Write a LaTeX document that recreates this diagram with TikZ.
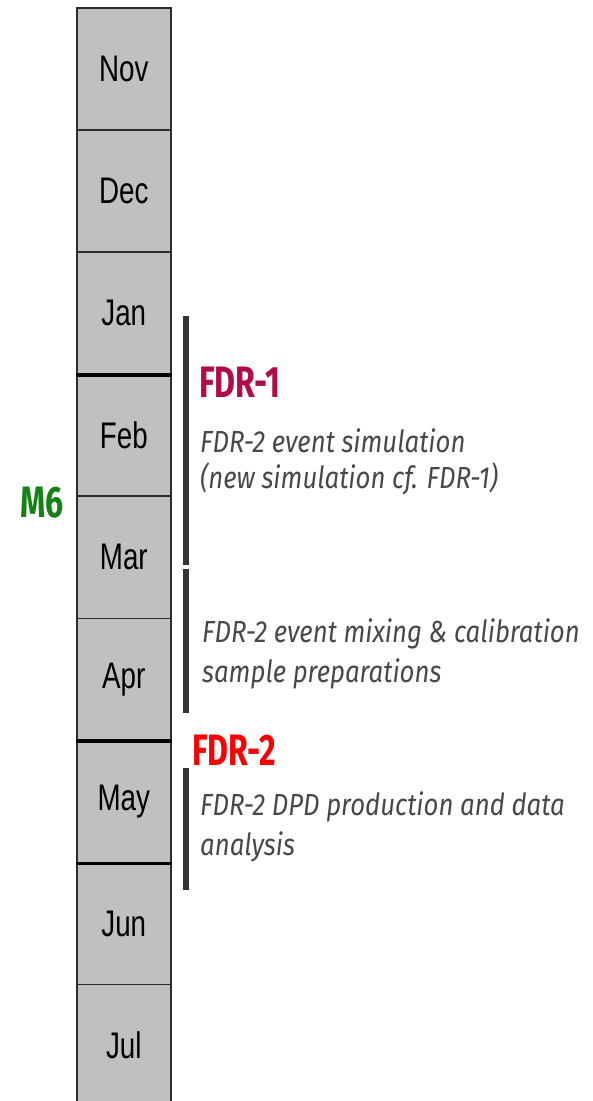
\documentclass[tikz,border=0pt]{standalone}
\usepackage{fontspec}
\newfontfamily\monthfont[FakeStretch=0.75]{Liberation Sans}
\newfontfamily\headfont[FakeStretch=0.73]{Fira Sans}
\newfontfamily\notefont[FakeStretch=0.845]{Fira Sans}
\definecolor{cellfill}{RGB}{192,192,192}
\definecolor{cellline}{RGB}{45,45,45}
\definecolor{barcol}{RGB}{51,51,51}
\definecolor{fdrone}{RGB}{176,12,72}
\definecolor{fdrtwo}{RGB}{250,0,0}
\definecolor{msix}{RGB}{20,130,20}
\definecolor{notecol}{RGB}{72,72,72}
\begin{document}
\begin{tikzpicture}[x=1pt,y=-1pt,
  cell/.style={draw=cellline, line width=1.6pt, fill=cellfill,
    minimum width=94pt, minimum height=122.1pt, inner sep=0pt,
    anchor=north west, text=black,
    font=\monthfont\fontsize{37}{40}\selectfont},
  sepline/.style={draw=black, line width=3.5pt},
  phasebar/.style={fill=barcol},
  head/.style={anchor=base west, inner sep=0pt,
    font=\headfont\bfseries\fontsize{44}{48}\selectfont},
  note/.style={anchor=base west, inner sep=0pt, text=notecol,
    font=\notefont\itshape\fontsize{30.5}{36}\selectfont}]
\useasboundingbox (0,0) rectangle (593,1101);
\clip (0,0) rectangle (593,1101);

% month column
\foreach \m [count=\i from 0] in {Nov,Dec,Jan,Feb,Mar,Apr,May,Jun,Jul}
  \node[cell] (m\i) at (76,{7+122.1*\i}) {\m};

% heavier separators
\draw[sepline] (m2.south west) -- (m2.south east);
\draw[sepline] (m5.south west) -- (m5.south east);
\draw[sepline] (m6.south west) -- (m6.south east);

% phase bars
\fill[phasebar] (183,316) rectangle (189,565);
\fill[phasebar] (183,569) rectangle (189,713);
\fill[phasebar] (183,768) rectangle (189,890);

% milestone and phase labels
\node[head, text=msix] (m6) at (20,517) {M6};
\node[head, text=fdrone] (fdr1) at (199,397) {FDR-1};
\node[note] (sim1) at (200,452) {FDR-2 event simulation};
\node[note] (sim2) at (200,488) {(new simulation cf. FDR-1)};
\node[note] (mix1) at (202,642) {FDR-2 event mixing \& calibration};
\node[note] (mix2) at (202,682) {sample preparations};
\node[head, text=fdrtwo] (fdr2) at (192,765) {FDR-2};
\node[note] (dpd1) at (200,815) {FDR-2 DPD production and data};
\node[note] (dpd2) at (200,855) {analysis};
\end{tikzpicture}
\end{document}
